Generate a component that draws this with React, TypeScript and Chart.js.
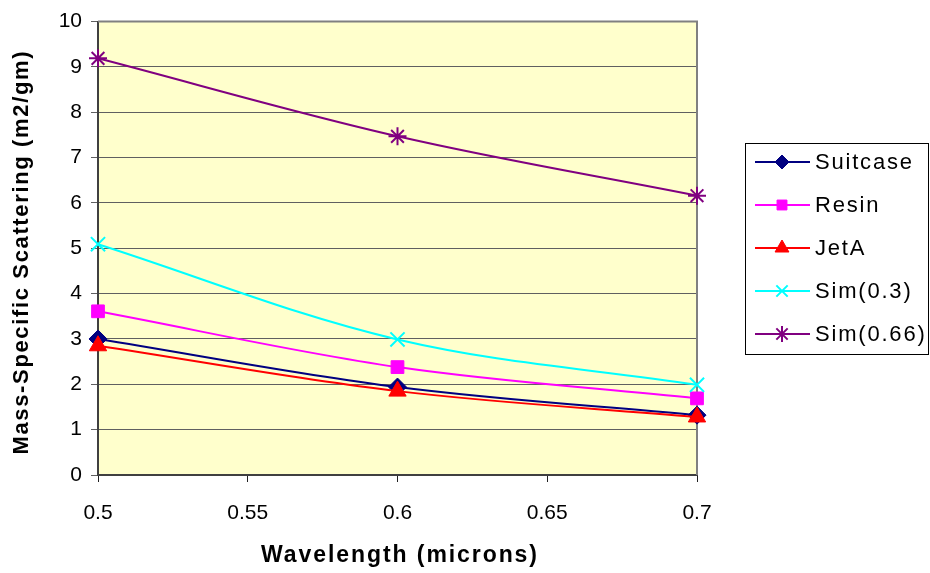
import React, { useEffect, useRef } from "react";
import { Chart, registerables } from "chart.js";
import { drawPoint } from "chart.js/helpers";

Chart.register(...registerables);

const wavelengths = [0.5, 0.6, 0.7];
const suitcase = [3.0, 1.94, 1.32];
const resin = [3.61, 2.38, 1.69];
const jetA = [2.85, 1.85, 1.28];
const sim03 = [5.09, 2.99, 1.99];
const sim066 = [9.19, 7.47, 6.16];

const seriesNames = ["Suitcase", "Resin", "JetA", "Sim(0.3)", "Sim(0.66)"];
const seriesValues = [suitcase, resin, jetA, sim03, sim066];
const seriesColors = ["#000080", "#FF00FF", "#FF0000", "#00FFFF", "#800080"];
const seriesMarkers = ["rectRot", "rect", "triangle", "crossRot", "star"];
const markerRadius = [9, 9, 10, 10, 9];
const legendMarkerRadius = [7, 7, 8, 8, 8];

const yTicks = [0, 1, 2, 3, 4, 5, 6, 7, 8, 9, 10];
const xTitle = "Wavelength (microns)";
const yTitle = "Mass-Specific Scattering (m2/gm)";

const FONT = "Arial, 'Liberation Sans', sans-serif";

function spacedText(ctx: any, text: string, x: number, y: number, targetWidth: number) {
  (ctx as any).letterSpacing = "0px";
  const w = ctx.measureText(text).width;
  const sp = Math.max(0, (targetWidth - w) / Math.max(1, text.length - 1));
  (ctx as any).letterSpacing = sp + "px";
  const w2 = ctx.measureText(text).width - sp;
  ctx.textAlign = "left";
  ctx.fillText(text, x - w2 / 2, y);
  (ctx as any).letterSpacing = "0px";
}

const plotBgPlugin = {
  id: "plotBg",
  beforeDraw(chart: any) {
    const { ctx, chartArea } = chart;
    const { left, top, right, bottom } = chartArea;
    ctx.save();
    ctx.fillStyle = "#FFFFCC";
    ctx.fillRect(left, top, right - left, bottom - top);
    ctx.restore();
  },
  beforeDatasetsDraw(chart: any) {
    const { ctx, chartArea } = chart;
    const { left, top, right, bottom } = chartArea;
    ctx.save();
    ctx.strokeStyle = "#808080";
    ctx.lineWidth = 2;
    ctx.beginPath();
    ctx.moveTo(left, top);
    ctx.lineTo(right, top);
    ctx.lineTo(right, bottom);
    ctx.stroke();
    ctx.restore();
  },
};

const titlesPlugin = {
  id: "axisTitles",
  afterDraw(chart: any) {
    const { ctx } = chart;
    ctx.save();
    ctx.fillStyle = "#000000";
    ctx.font = `bold 23px ${FONT}`;
    ctx.textBaseline = "middle";
    spacedText(ctx, xTitle, 399, 556, 276);
    ctx.translate(22, 253);
    ctx.rotate(-Math.PI / 2);
    ctx.font = `bold 22px ${FONT}`;
    spacedText(ctx, yTitle, 0, 0, 403);
    ctx.restore();
  },
};

const legendPlugin = {
  id: "boxLegend",
  afterDraw(chart: any) {
    const { ctx } = chart;
    const boxL = 745.5, boxT = 143.5, boxR = 928.5, boxB = 354.5;
    ctx.save();
    ctx.fillStyle = "#FFFFFF";
    ctx.fillRect(boxL, boxT, boxR - boxL, boxB - boxT);
    ctx.strokeStyle = "#000000";
    ctx.lineWidth = 1;
    ctx.strokeRect(boxL, boxT, boxR - boxL, boxB - boxT);
    chart.data.datasets.forEach((ds: any, i: number) => {
      const y = 162 + i * 43;
      ctx.strokeStyle = ds.borderColor;
      ctx.lineWidth = 2;
      ctx.beginPath();
      ctx.moveTo(755, y);
      ctx.lineTo(810, y);
      ctx.stroke();
      ctx.fillStyle = ds.pointBackgroundColor;
      ctx.strokeStyle = ds.pointBorderColor;
      ctx.lineWidth = ds.pointBorderWidth;
      drawPoint(
        ctx,
        {
          pointStyle: ds.pointStyle,
          radius: legendMarkerRadius[i],
          rotation: 0,
          borderWidth: ds.pointBorderWidth,
        } as any,
        782,
        y
      );
      ctx.fillStyle = "#000000";
      ctx.font = `22px ${FONT}`;
      ctx.textBaseline = "middle";
      ctx.textAlign = "left";
      (ctx as any).letterSpacing = "1.8px";
      ctx.fillText(ds.label, 815, y + 1);
      (ctx as any).letterSpacing = "0px";
    });
    ctx.restore();
  },
};

export default function App() {
  const canvasRef = useRef<HTMLCanvasElement | null>(null);

  useEffect(() => {
    if (!canvasRef.current) return;
    const datasets = seriesNames.map((name, i) => ({
      label: name,
      data: wavelengths.map((w, j) => ({ x: w, y: seriesValues[i][j] })),
      borderColor: seriesColors[i],
      backgroundColor: seriesColors[i],
      pointBackgroundColor: seriesColors[i],
      pointBorderColor: seriesColors[i],
      pointStyle: seriesMarkers[i],
      pointRadius: markerRadius[i],
      pointBorderWidth: i >= 3 ? 2 : 1,
      borderWidth: 2,
      tension: 0.35,
      clip: false,
      order: seriesNames.length - i,
    }));

    const chart = new Chart(canvasRef.current, {
      type: "line",
      data: { datasets },
      plugins: [plotBgPlugin, titlesPlugin, legendPlugin],
      options: {
        animation: false,
        responsive: false,
        maintainAspectRatio: false,
        layout: { padding: { left: 0, top: 20, right: 233, bottom: 0 } },
        plugins: {
          legend: { display: false },
          tooltip: { enabled: false },
        },
        scales: {
          x: {
            type: "linear",
            min: 0.5,
            max: 0.7,
            afterFit: (scale: any) => {
              scale.height = 98;
            },
            ticks: {
              stepSize: 0.05,
              color: "#000000",
              font: { family: FONT, size: 21 },
              padding: 19,
              maxRotation: 0,
              callback: (v: any) => String(Number(Number(v).toFixed(2))),
            },
            grid: {
              drawOnChartArea: false,
              drawTicks: true,
              tickLength: 7,
              color: "#202020",
            },
            border: { color: "#404040", width: 2 },
            title: { display: false },
          },
          y: {
            type: "linear",
            min: 0,
            max: 10,
            afterFit: (scale: any) => {
              scale.width = 98;
            },
            afterBuildTicks: (scale: any) => {
              scale.ticks = yTicks.map((v) => ({ value: v }));
            },
            ticks: {
              color: "#000000",
              font: { family: FONT, size: 21 },
              padding: 9,
            },
            grid: {
              drawOnChartArea: true,
              drawTicks: true,
              tickLength: 7,
              color: "#606060",
              lineWidth: 1,
            },
            border: { color: "#404040", width: 2 },
            title: { display: false },
          },
        },
      } as any,
    });
    return () => chart.destroy();
  }, []);

  return (
    <div style={{ position: "absolute", left: 0, top: 0, width: 930, height: 573, background: "#FFFFFF" }}>
      <canvas ref={canvasRef} width={930} height={573} style={{ width: 930, height: 573, display: "block" }} />
    </div>
  );
}
